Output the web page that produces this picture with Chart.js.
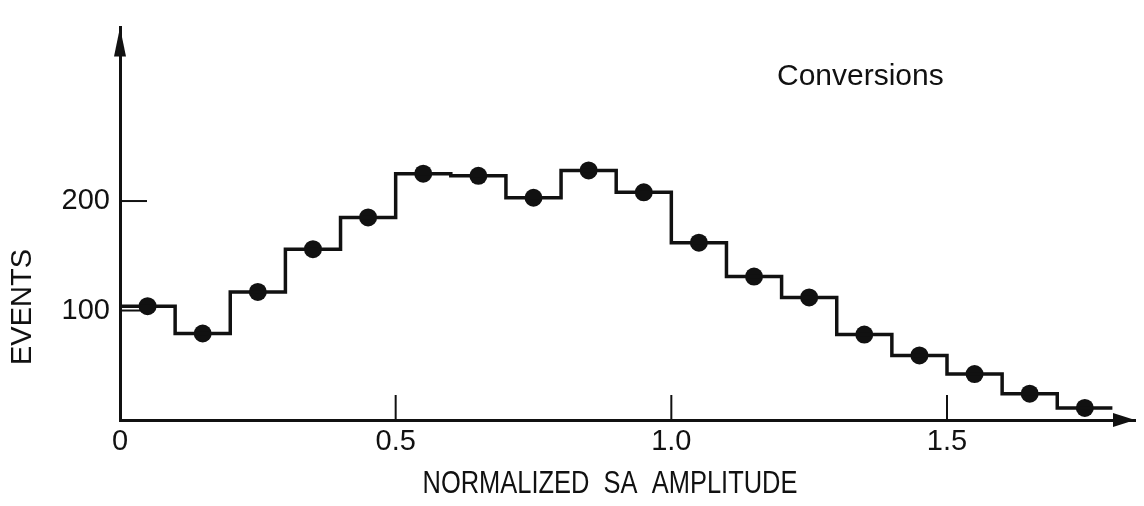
<!DOCTYPE html>
<html>
<head>
<meta charset="utf-8">
<script src="https://cdn.jsdelivr.net/npm/chart.js@4"></script>
<style>
  html, body { margin: 0; padding: 0; background: #fff; }
  #wrap { width: 1144px; height: 506px; }
</style>
</head>
<body>
<div id="wrap"><canvas id="chart" width="1144" height="506"></canvas></div>
<script>
// histogram of normalized SA amplitude, conversions
const binEdges = [0, 0.1, 0.2, 0.3, 0.4, 0.5, 0.6, 0.7, 0.8, 0.9, 1.0, 1.1, 1.2, 1.3, 1.4, 1.5, 1.6, 1.7, 1.8];
const binCenters = [0.05, 0.15, 0.25, 0.35, 0.45, 0.55, 0.65, 0.75, 0.85, 0.95, 1.05, 1.15, 1.25, 1.35, 1.45, 1.55, 1.65, 1.75];
const events = [104, 79, 117, 156, 185, 225, 223, 203, 228, 208, 162, 131, 112, 78, 59, 42, 24, 11];
const xTicks = [0, 0.5, 1.0, 1.5];
const yTicks = [100, 200];
const xLabels = ['0', '0.5', '1.0', '1.5'];

const FONT = '"Liberation Sans", Arial, sans-serif';
const INK = '#111';

const stepData = binEdges.map((x, i) => ({ x: x, y: events[Math.min(i, events.length - 1)] }));
const dotData = binCenters.map((x, i) => ({ x: x, y: events[i] }));

const drawExtras = {
  id: 'drawExtras',
  beforeDatasetsDraw(chart) {
    const { ctx, scales: { x, y } } = chart;
    const x0 = x.getPixelForValue(0);
    const y0 = y.getPixelForValue(0);
    ctx.save();
    ctx.strokeStyle = INK;
    ctx.lineWidth = 2;
    // inner ticks
    yTicks.forEach(v => {
      const py = y.getPixelForValue(v);
      ctx.beginPath();
      ctx.moveTo(x0, py);
      ctx.lineTo(x0 + 27, py);
      ctx.stroke();
    });
    xTicks.slice(1).forEach(v => {
      const px = x.getPixelForValue(v);
      ctx.beginPath();
      ctx.moveTo(px, y0);
      ctx.lineTo(px, y0 - 25);
      ctx.stroke();
    });
    ctx.restore();
  },
  afterDraw(chart) {
    const { ctx, chartArea: a } = chart;
    ctx.save();
    ctx.fillStyle = INK;
    // arrow on y axis
    ctx.beginPath();
    ctx.moveTo(a.left, a.top);
    ctx.lineTo(a.left - 6, a.top + 29);
    ctx.lineTo(a.left + 6, a.top + 29);
    ctx.closePath();
    ctx.fill();
    // arrow on x axis
    ctx.beginPath();
    ctx.moveTo(a.right, a.bottom);
    ctx.lineTo(a.right - 22, a.bottom - 7);
    ctx.lineTo(a.right - 22, a.bottom + 7);
    ctx.closePath();
    ctx.fill();

    ctx.textBaseline = 'middle';
    ctx.textAlign = 'left';
    ctx.font = '30px ' + FONT;
    ctx.fillText('Conversions', 777, 77);

    // x title, squeezed to the narrow lettering of the original
    ctx.save();
    ctx.textAlign = 'center';
    ctx.font = '31px ' + FONT;
    const title = 'NORMALIZED  SA  AMPLITUDE';
    const k = 375 / ctx.measureText(title).width;
    ctx.translate(610, 484);
    ctx.scale(k, 1);
    ctx.fillText(title, 0, 0);
    ctx.restore();

    ctx.textAlign = 'center';
    ctx.translate(23, 307);
    ctx.rotate(-Math.PI / 2);
    ctx.font = '29px ' + FONT;
    ctx.fillText('EVENTS', 0, 0);
    ctx.restore();
  }
};

new Chart(document.getElementById('chart'), {
  type: 'scatter',
  data: {
    datasets: [
      {
        type: 'line',
        data: stepData,
        stepped: 'before',
        borderColor: INK,
        borderWidth: 3.5,
        pointRadius: 0,
        fill: false
      },
      {
        type: 'scatter',
        data: dotData,
        pointRadius: 9,
        pointBackgroundColor: INK,
        pointBorderColor: INK,
        pointBorderWidth: 0
      }
    ]
  },
  options: {
    responsive: false,
    animation: false,
    events: [],
    layout: { padding: { left: 0, right: 2, top: 13, bottom: 0 } },
    plugins: { legend: { display: false }, tooltip: { enabled: false } },
    scales: {
      x: {
        type: 'linear',
        min: 0,
        max: 1.841,
        grid: { display: false, drawTicks: false },
        border: { display: true, color: INK, width: 3 },
        afterBuildTicks: (s) => { s.ticks = xTicks.map(v => ({ value: v })); },
        afterFit: (s) => { s.height = 86; },
        ticks: {
          color: INK,
          padding: 5,
          maxRotation: 0,
          font: { family: FONT, size: 29 },
          callback: (v) => xLabels[xTicks.indexOf(v)]
        }
      },
      y: {
        type: 'linear',
        min: 0,
        max: 358.6,
        grid: { display: false, drawTicks: false },
        border: { display: true, color: INK, width: 3 },
        afterBuildTicks: (s) => { s.ticks = yTicks.map(v => ({ value: v })); },
        afterFit: (s) => { s.width = 120; },
        ticks: {
          color: INK,
          padding: 10,
          font: { family: FONT, size: 29 },
          callback: (v) => String(v)
        }
      }
    }
  },
  plugins: [drawExtras]
});
</script>
</body>
</html>
